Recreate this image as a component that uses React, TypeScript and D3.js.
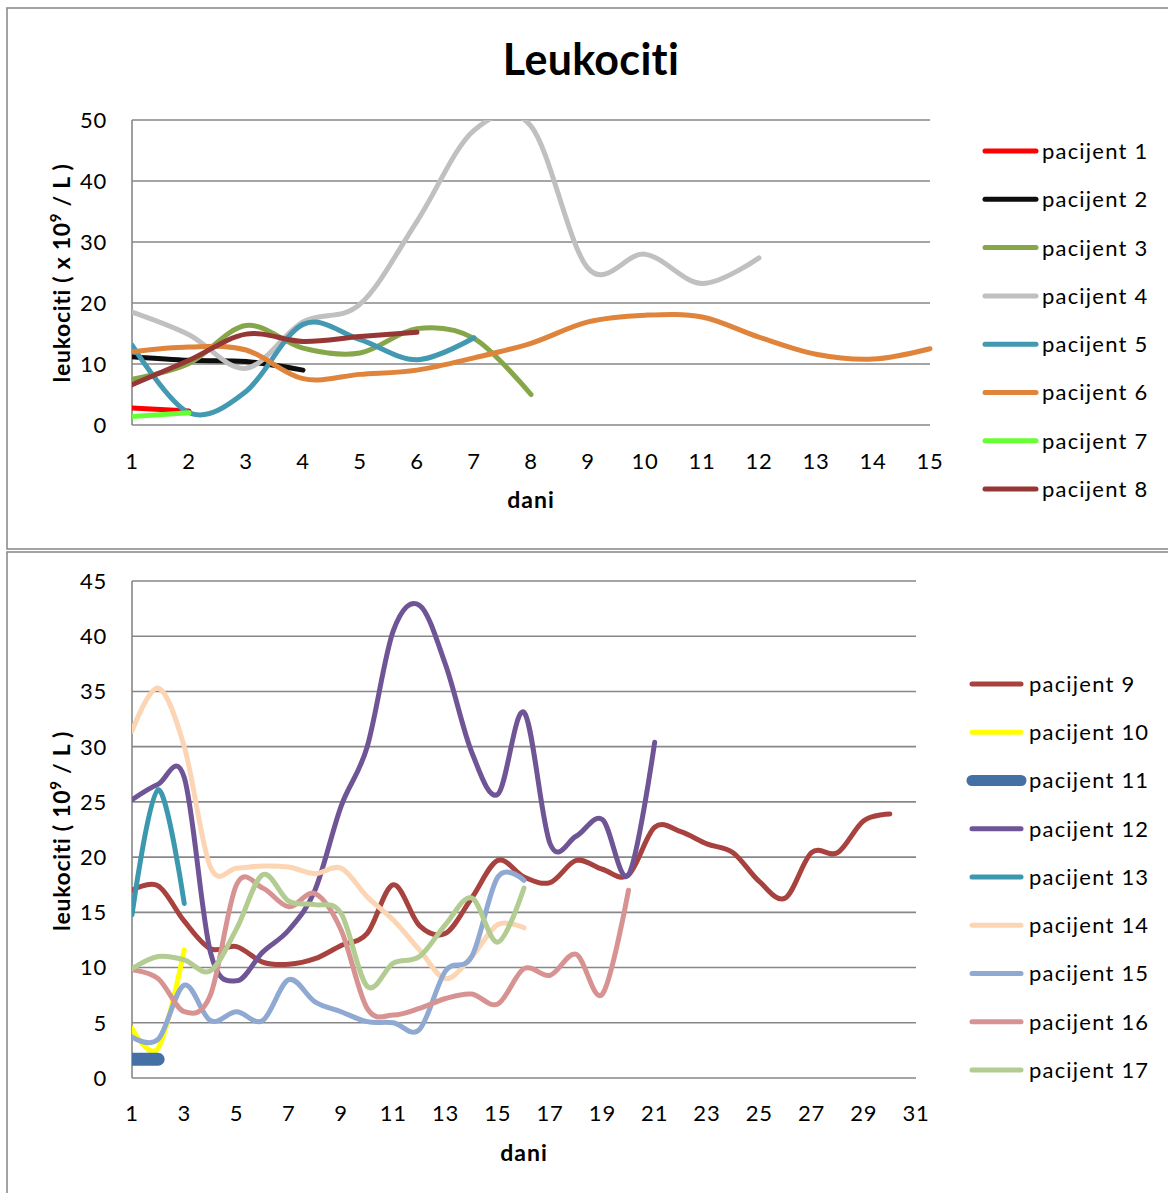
import React from 'react';
import * as d3 from 'd3';

// ---- gornji grafikon (pacijenti 1-8) ----
const topDays = [1, 2, 3, 4, 5, 6, 7, 8, 9, 10, 11, 12, 13, 14, 15];
const topYTicks = [0, 10, 20, 30, 40, 50];

const pacijent1 = [2.8, 2.3];
const pacijent2 = [11.2, 10.6, 10.4, 9.0];
const pacijent3 = [7.5, 10.1, 16.3, 12.6, 11.8, 15.8, 14.2, 5.0];
const pacijent4 = [18.5, 14.8, 9.3, 16.9, 19.8, 33.4, 48.3, 49.0, 25.7, 28.0, 23.2, 27.4];
const pacijent5 = [13.1, 2.0, 5.5, 16.5, 14.0, 10.7, 14.3];
const pacijent6 = [12.0, 12.8, 12.3, 7.6, 8.3, 9.0, 11.0, 13.4, 16.9, 18.0, 17.7, 14.4, 11.6, 10.8, 12.5];
const pacijent7 = [1.4, 2.0];
const pacijent8 = [6.6, 10.6, 14.9, 13.7, 14.5, 15.2];

const topNames = ['pacijent 1', 'pacijent 2', 'pacijent 3', 'pacijent 4', 'pacijent 5', 'pacijent 6', 'pacijent 7', 'pacijent 8'];
const topSeries = [pacijent1, pacijent2, pacijent3, pacijent4, pacijent5, pacijent6, pacijent7, pacijent8];

// ---- donji grafikon (pacijenti 9-17) ----
const bottomDays = [1, 2, 3, 4, 5, 6, 7, 8, 9, 10, 11, 12, 13, 14, 15, 16, 17, 18, 19, 20, 21, 22, 23, 24, 25, 26, 27, 28, 29, 30, 31];
const bottomXTicks = [1, 3, 5, 7, 9, 11, 13, 15, 17, 19, 21, 23, 25, 27, 29, 31];
const bottomYTicks = [0, 5, 10, 15, 20, 25, 30, 35, 40, 45];

const pacijent9 = [17.0, 17.4, 14.2, 11.7, 11.9, 10.5, 10.3, 10.8, 12.0, 13.1, 17.5, 13.8, 13.1, 16.3, 19.7, 18.2, 17.7, 19.7, 18.9, 18.4, 22.7, 22.3, 21.2, 20.4, 17.8, 16.3, 20.4, 20.4, 23.3, 23.9];
const pacijent10 = [4.5, 2.7, 11.6];
const pacijent11 = [1.7, 1.7];
const pacijent12 = [25.2, 26.6, 27.2, 11.4, 8.8, 11.4, 13.4, 17.0, 24.6, 30.0, 40.5, 42.8, 37.4, 29.5, 25.7, 33.1, 21.2, 21.9, 23.4, 18.4, 30.4];
const pacijent13 = [14.8, 26.1, 15.8];
const pacijent14 = [31.4, 35.3, 30.0, 19.1, 19.0, 19.2, 19.1, 18.5, 19.0, 16.4, 14.3, 11.6, 9.0, 11.0, 13.9, 13.6];
const pacijent15 = [3.7, 3.5, 8.4, 5.2, 6.0, 5.2, 8.9, 6.9, 6.0, 5.1, 5.0, 4.4, 9.7, 11.0, 18.2, 17.9];
const pacijent16 = [9.8, 9.0, 6.0, 7.5, 17.5, 17.2, 15.5, 16.7, 13.4, 6.3, 5.7, 6.3, 7.2, 7.6, 6.7, 9.9, 9.3, 11.2, 7.6, 17.0];
const pacijent17 = [9.9, 11.0, 10.7, 9.7, 13.5, 18.4, 16.0, 15.7, 14.9, 8.3, 10.4, 11.0, 13.9, 16.3, 12.3, 17.2];

const bottomNames = ['pacijent 9', 'pacijent 10', 'pacijent 11', 'pacijent 12', 'pacijent 13', 'pacijent 14', 'pacijent 15', 'pacijent 16', 'pacijent 17'];
const bottomSeries = [pacijent9, pacijent10, pacijent11, pacijent12, pacijent13, pacijent14, pacijent15, pacijent16, pacijent17];

// boje i debljine linija
const topColors = ['#ff0000', '#0d0d0d', '#86a64a', '#c0c0c0', '#4299b1', '#df843a', '#66ff33', '#953735'];
const topWidths = [5, 5, 5, 5, 5, 5, 5, 5];
const bottomColors = ['#a8423f', '#ffff00', '#4570a6', '#6f5596', '#3c98ae', '#fcd5b4', '#8fa9d2', '#d69391', '#b3cc92'];
const bottomWidths = [5, 5, 13, 5, 5, 5, 5, 5, 5];

const FONT = 'Lato, "Open Sans", sans-serif';
const GRID = '#878787';

interface ChartProps {
  id: string;
  days: number[];
  xTicks: number[];
  yTicks: number[];
  series: number[][];
  names: string[];
  colors: string[];
  widths: number[];
  left: number;
  right: number;
  top: number;
  bottom: number;
  legendX1: number;
  legendX2: number;
  legendTextX: number;
  legendY: number;
  legendStep: number;
  yLabel: string;
  yLabelCenter: number;
  xLabelY: number;
  tickLabelY: number;
  title?: string;
}

const LineChart: React.FC<ChartProps> = (p) => {
  const x = d3.scalePoint<number>().domain(p.days).range([p.left, p.right]);
  const y = d3.scaleLinear().domain([0, p.yTicks[p.yTicks.length - 1]]).range([p.bottom, p.top]);

  const line = (vals: number[]) =>
    d3.line<number>()
      .x((_, i) => x(p.days[i])!)
      .y((v) => y(v))
      .curve(d3.curveCardinal.tension(0))(vals) || '';

  const xMid = (p.left + p.right) / 2;

  return (
    <g fontFamily={FONT}>
      <defs>
        <clipPath id={p.id}>
          <rect x={p.left} y={p.top} width={p.right - p.left + 8} height={p.bottom - p.top + 10} />
        </clipPath>
      </defs>

      {p.title && (
        <text x={591} y={75} textAnchor="middle" fontSize={43} fontWeight="bold" fill="#000" letterSpacing={0.3}>
          {p.title}
        </text>
      )}

      {p.yTicks.map((t) => (
        <line key={'g' + t} x1={p.left} x2={p.right} y1={y(t)} y2={y(t)} stroke={GRID} strokeWidth={1.6} />
      ))}
      <line x1={p.left} x2={p.left} y1={p.top} y2={p.bottom} stroke={GRID} strokeWidth={1.6} />

      {p.yTicks.map((t) => (
        <text key={'yt' + t} x={107} y={y(t)} dy="0.36em" textAnchor="end" fontSize={22} letterSpacing={0.8} fill="#000">
          {t}
        </text>
      ))}
      {p.xTicks.map((t) => (
        <text key={'xt' + t} x={x(t)} y={p.tickLabelY} textAnchor="middle" fontSize={22} letterSpacing={0.8} fill="#000">
          {t}
        </text>
      ))}

      <text x={xMid} y={p.xLabelY} textAnchor="middle" fontSize={23} fontWeight="bold" letterSpacing={1} fill="#000">
        dani
      </text>

      <text
        transform={`translate(70, ${p.yLabelCenter}) rotate(-90)`}
        textAnchor="middle"
        fontSize={23}
        fontWeight="bold"
        letterSpacing={0.7}
        fill="#000"
      >
        {p.yLabel}
        <tspan fontSize={15} dy={-9}>9</tspan>
        <tspan dy={9}> / L )</tspan>
      </text>

      <g clipPath={`url(#${p.id})`}>
        {p.series.map((vals, i) => (
          <path
            key={'s' + i}
            d={line(vals)}
            fill="none"
            stroke={p.colors[i]}
            strokeWidth={p.widths[i]}
            strokeLinecap="round"
            strokeLinejoin="round"
          />
        ))}
      </g>

      {p.names.map((n, i) => {
        const ly = p.legendY + i * p.legendStep;
        return (
          <g key={'l' + i}>
            <line
              x1={p.legendX1}
              x2={p.legendX2}
              y1={ly}
              y2={ly}
              stroke={p.colors[i]}
              strokeWidth={Math.min(p.widths[i], 11)}
              strokeLinecap="round"
            />
            <text x={p.legendTextX} y={ly} dy="0.36em" fontSize={22} letterSpacing={1.2} fill="#000">
              {n}
            </text>
          </g>
        );
      })}
    </g>
  );
};

export default function App() {
  return (
    <svg
      width={1168}
      height={1193}
      style={{ position: 'absolute', left: 0, top: 0, display: 'block', background: '#fff' }}
    >
      <rect x={7} y={8} width={1200} height={541} fill="#fff" stroke="#8c8c8c" strokeWidth={1.6} />
      <rect x={7} y={552} width={1200} height={700} fill="#fff" stroke="#8c8c8c" strokeWidth={1.6} />

      <LineChart
        id="clipTop"
        days={topDays}
        xTicks={topDays}
        yTicks={topYTicks}
        series={topSeries}
        names={topNames}
        colors={topColors}
        widths={topWidths}
        left={132}
        right={930}
        top={120}
        bottom={425}
        legendX1={985}
        legendX2={1036}
        legendTextX={1042}
        legendY={151}
        legendStep={48.3}
        yLabel="leukociti ( x 10"
        yLabelCenter={273}
        xLabelY={508}
        tickLabelY={469}
        title="Leukociti"
      />

      <LineChart
        id="clipBottom"
        days={bottomDays}
        xTicks={bottomXTicks}
        yTicks={bottomYTicks}
        series={bottomSeries}
        names={bottomNames}
        colors={bottomColors}
        widths={bottomWidths}
        left={132}
        right={916}
        top={581}
        bottom={1078}
        legendX1={972}
        legendX2={1021}
        legendTextX={1029}
        legendY={684}
        legendStep={48.25}
        yLabel="leukociti ( 10"
        yLabelCenter={831}
        xLabelY={1161}
        tickLabelY={1121}
      />
    </svg>
  );
}
